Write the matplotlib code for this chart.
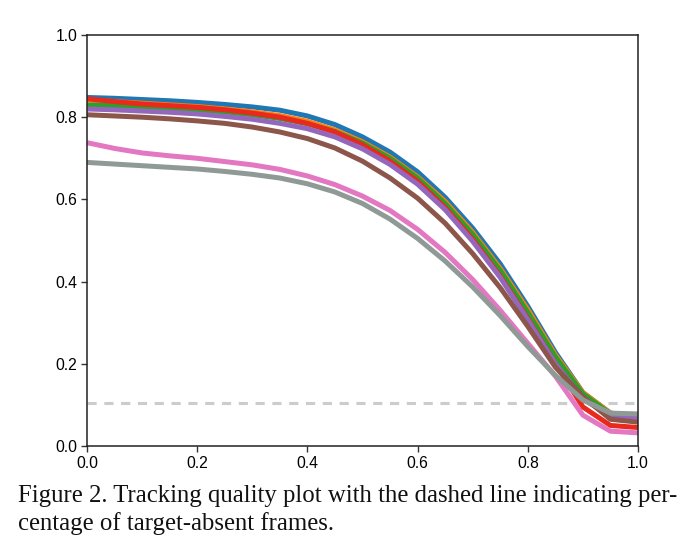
import matplotlib
matplotlib.use("Agg")
import matplotlib.pyplot as plt
import numpy as np

x = [0.0, 0.05, 0.1, 0.15, 0.2, 0.25, 0.3, 0.35, 0.4, 0.45, 0.5,
     0.55, 0.6, 0.65, 0.7, 0.75, 0.8, 0.85, 0.9, 0.95, 1.0]

blue = [.848, .846, .843, .840, .836, .831, .825, .817, .803, .782, .752,
        .715, .667, .605, .530, .443, .340, .228, .130, .080, .072]
orange = [.842, .838, .834, .830, .826, .820, .813, .804, .790, .769, .740,
          .703, .655, .595, .520, .432, .332, .222, .130, .080, .070]
green = [.830, .828, .825, .822, .818, .813, .806, .797, .784, .765, .737,
         .700, .652, .590, .515, .427, .325, .217, .127, .078, .070]
red = [.845, .838, .832, .828, .824, .818, .810, .800, .785, .764, .733,
       .693, .644, .580, .503, .413, .310, .200, .095, .050, .045]
purple = [.820, .818, .815, .812, .808, .802, .795, .785, .772, .752, .723,
          .685, .637, .575, .498, .410, .307, .200, .115, .072, .070]
brown = [.806, .803, .800, .796, .791, .785, .776, .764, .748, .725, .693,
         .652, .603, .542, .468, .385, .291, .192, .120, .065, .058]
pink = [.738, .724, .713, .706, .700, .692, .684, .673, .657, .636, .608,
        .573, .527, .471, .405, .330, .250, .170, .075, .036, .032]
gray = [.690, .686, .682, .678, .674, .668, .661, .652, .638, .618, .590,
        .552, .505, .450, .387, .317, .242, .172, .112, .080, .078]

absent_frac = 0.105
ticks = [0.0, 0.2, 0.4, 0.6, 0.8, 1.0]
caption_lines = ["Figure 2. Tracking quality plot with the dashed line indicating per-",
                 "centage of target-absent frames."]

series = [
    (blue, "#1f77b4"),
    (orange, "#ff7f0e"),
    (green, "#2ca02c"),
    (red, "#e8291c"),
    (purple, "#9467bd"),
    (brown, "#8c564b"),
    (pink, "#e377c2"),
    (gray, "#8f9a96"),
]

fig = plt.figure(figsize=(7.0, 5.56), dpi=100)
ax = fig.add_axes([87/700, 110/556, 551/700, 411/556])

ax.axhline(absent_frac, color="#cccccc", linestyle=(0, (3, 2.5)), linewidth=2.2, zorder=1)
for ys, c in series:
    ax.plot(x, ys, color=c, linewidth=3.6, solid_capstyle="butt", zorder=2)

ax.set_xlim(0, 1)
ax.set_ylim(0, 1)
ax.set_xticks(ticks)
ax.set_yticks(ticks)
ax.set_xticklabels([f"{t:.1f}" for t in ticks])
ax.set_yticklabels([f"{t:.1f}" for t in ticks])
for lab in ax.get_xticklabels() + ax.get_yticklabels():
    lab.set_fontfamily("Liberation Sans")
    lab.set_fontsize(11.3)
ax.tick_params(direction="out", length=4, width=1, color="#333333", pad=3)
for sp in ax.spines.values():
    sp.set_linewidth(1.1)
    sp.set_color("#222222")

baselines = [502, 530]
for line, b in zip(caption_lines, baselines):
    fig.text(18/700, 1 - b/556, line, family="Liberation Serif", fontsize=17.8,
             va="baseline", ha="left", color="#111111")

fig.savefig("out.png", dpi=100)
